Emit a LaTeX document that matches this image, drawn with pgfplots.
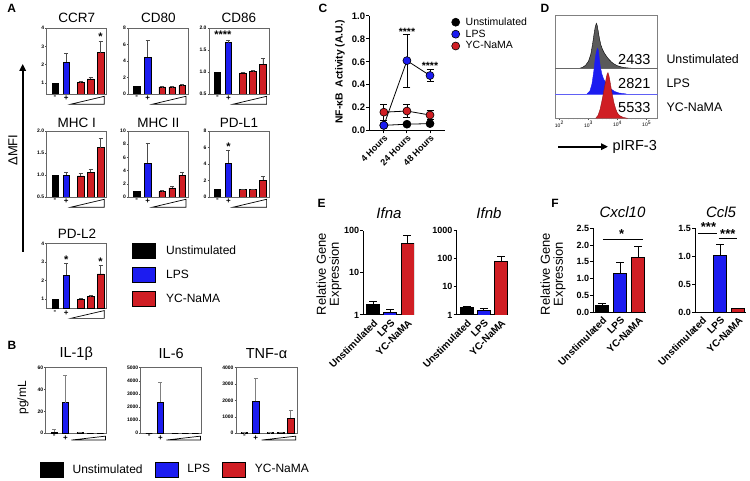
\documentclass[border=0pt]{standalone}
\usepackage{pgfplots}
\pgfplotsset{compat=1.18}
\usepackage{fontspec}
\setmainfont{Liberation Sans}
\usetikzlibrary{arrows.meta}
\definecolor{cblue}{RGB}{28,28,240}
\definecolor{cred}{RGB}{208,30,36}
\definecolor{cgray}{RGB}{90,90,90}
\newcommand\fs[1]{\fontsize{#1}{#1}\selectfont}
\pgfkeys{/pgf/number format/assume math mode=true}
\pgfplotsset{
  aBar/.style={ybar, bar shift=0pt, bar width=6.5pt, draw=black, line width=0.5pt, forget plot,
    error bars/y dir=plus, error bars/y explicit, error bars/error bar style={line width=0.6pt, black!70},
    error bars/error mark options={rotate=90, mark size=2pt, line width=0.6pt, black!70}},
  bBar/.style={ybar, bar shift=0pt, bar width=6.5pt, draw=black, line width=0.5pt, forget plot,
    error bars/y dir=plus, error bars/y explicit, error bars/error bar style={line width=0.6pt, black!50},
    error bars/error mark options={rotate=90, mark size=2pt, line width=0.6pt, black!50}},
  eBar/.style={ybar, bar shift=0pt, bar width=13pt, draw=black, line width=0.9pt, forget plot,
    error bars/y dir=plus, error bars/y explicit, error bars/error bar style={line width=0.9pt, black},
    error bars/error mark options={rotate=90, mark size=4pt, line width=0.9pt, black}},
  cLine/.style={black, line width=0.8pt, forget plot, mark=*, mark size=4pt,
    error bars/y dir=both, error bars/y explicit, error bars/error bar style={line width=0.8pt, black},
    error bars/error mark options={rotate=90, mark size=3.5pt, line width=0.8pt, black}},
  pA/.style={scale only axis, anchor=south west, width=60pt, height=66pt,
    xmin=-0.75, xmax=4.65,
    axis line style={black!60, line width=0.6pt},
    xtick={0,1}, xticklabels={-,+}, major x tick style={draw=none},
    xticklabel style={font=\fs{8}\bfseries, inner sep=0.5pt},
    ytick pos=left, tick align=outside, major tick length=1.5pt,
    major y tick style={black!70, line width=0.5pt},
    yticklabel style={font=\fs{5}\bfseries, inner sep=0.8pt},
    clip mode=individual, scaled y ticks=false,
    extra description/.code={\draw[line width=0.7pt]
      (axis description cs:0.40,-0.155) -- (axis description cs:0.96,-0.155)
      -- (axis description cs:0.96,-0.035) -- cycle;}},
  pB/.style={pA, width=61pt, height=65.5pt,
    y tick label style={/pgf/number format/1000 sep={}},
    extra description/.code={\draw[line width=0.7pt]
      (axis description cs:0.42,-0.105) -- (axis description cs:0.98,-0.105)
      -- (axis description cs:0.98,-0.045) -- cycle;}},
  onedec/.style={y tick label style={/pgf/number format/fixed, /pgf/number format/fixed zerofill, /pgf/number format/precision=1}},
  pE/.style={scale only axis, anchor=south west,
    axis x line*=bottom, axis y line*=left,
    axis line style={line width=1pt},
    xtick={0,1,2}, xticklabels={Unstimulated,LPS,YC-NaMA},
    major x tick style={draw=none},
    xticklabel style={rotate=45, anchor=north east, font=\fs{10}\bfseries, inner sep=0.5pt},
    tick align=outside, major tick length=3pt, minor tick length=0pt,
    major y tick style={line width=1pt, black},
    yticklabel style={font=\fs{9}\bfseries, inner sep=1pt},
    clip mode=individual},
}
\begin{document}
\begin{tikzpicture}[x=1pt,y=1pt]
\path[use as bounding box] (0,0) rectangle (750,481);

% ---------------- Panel letters
\node[font=\fs{12}\bfseries] at (11.7,472.7) {A};
\node[font=\fs{12}\bfseries] at (12,136) {B};
\node[font=\fs{12}\bfseries] at (323,473) {C};
\node[font=\fs{12}\bfseries] at (545,473) {D};
\node[font=\fs{12}\bfseries] at (321.7,277.7) {E};
\node[font=\fs{12}\bfseries] at (555,277.7) {F};

% ---------------- Panel A
\node[font=\fs{13}, rotate=90] at (13,331) {ΔMFI};
\draw[line width=1.7pt, -{Triangle[length=7pt,width=6.5pt]}] (22.7,229.3) -- (22.7,417);

\node[font=\fs{13.5}] at (76.7,462.7) {CCR7};
\node[font=\fs{13.5}] at (158.3,462.7) {CD80};
\node[font=\fs{13.5}] at (239,462.7) {CD86};
\node[font=\fs{13.5}] at (76.7,357.7) {MHC I};
\node[font=\fs{13.5}] at (158.3,357.7) {MHC II};
\node[font=\fs{13.5}] at (239,357.7) {PD-L1};
\node[font=\fs{13.5}] at (77,247.7) {PD-L2};

\begin{axis}[pA, at={(46.7pt,387pt)}, ymin=0.4, ymax=4, ytick={1,2,3,4}]
\addplot[aBar, fill=black] coordinates {(0,1)};
\addplot[aBar, fill=cblue] coordinates {(1,2.15) +- (0,0.45)};
\addplot[aBar, fill=cred] coordinates {(2.3,1.03) +- (0,0.04) (3.2,1.22) +- (0,0.08) (4.1,2.65) +- (0,0.65)};
\node[font=\fs{11}\bfseries] at (axis cs:4.1,3.5) {*};
\end{axis}

\begin{axis}[pA, at={(128.3pt,387pt)}, ymin=0, ymax=8, ytick={0,2,4,6,8}]
\addplot[aBar, fill=black] coordinates {(0,0.9)};
\addplot[aBar, fill=cblue] coordinates {(1,4.5) +- (0,2.0)};
\addplot[aBar, fill=cred] coordinates {(2.3,0.85) +- (0,0.05) (3.2,0.85) +- (0,0.05) (4.1,1.0) +- (0,0.12)};
\end{axis}

\begin{axis}[pA, onedec, at={(209pt,387pt)}, ymin=0.5, ymax=2, ytick={0.5,1,1.5,2}]
\addplot[aBar, fill=black] coordinates {(0,1.0)};
\addplot[aBar, fill=cblue] coordinates {(1,1.67) +- (0,0.06)};
\addplot[aBar, fill=cred] coordinates {(2.3,0.98) +- (0,0.01) (3.2,1.01) +- (0,0.03) (4.1,1.18) +- (0,0.12)};
\node[font=\fs{11}\bfseries] at (axis cs:0.5,1.85) {****};
\end{axis}

\begin{axis}[pA, onedec, at={(46.7pt,284pt)}, ymin=0.5, ymax=2, ytick={0.5,1,1.5,2}]
\addplot[aBar, fill=black] coordinates {(0,1.0)};
\addplot[aBar, fill=cblue] coordinates {(1,1.0) +- (0,0.07)};
\addplot[aBar, fill=cred] coordinates {(2.3,0.98) +- (0,0.06) (3.2,1.06) +- (0,0.06) (4.1,1.62) +- (0,0.21)};
\end{axis}

\begin{axis}[pA, at={(128.3pt,284pt)}, ymin=0, ymax=10, ytick={0,2,4,6,8,10}]
\addplot[aBar, fill=black] coordinates {(0,0.9)};
\addplot[aBar, fill=cblue] coordinates {(1,5.1) +- (0,3.1)};
\addplot[aBar, fill=cred] coordinates {(2.3,0.85) +- (0,0.1) (3.2,1.4) +- (0,0.25) (4.1,3.3) +- (0,0.5)};
\end{axis}

\begin{axis}[pA, at={(209pt,284pt)}, ymin=0, ymax=8, ytick={0,2,4,6,8}]
\addplot[aBar, fill=black] coordinates {(0,0.9)};
\addplot[aBar, fill=cblue] coordinates {(1,4.1) +- (0,1.6)};
\addplot[aBar, fill=cred] coordinates {(2.3,0.9) +- (0,0.08) (3.2,0.9) +- (0,0.08) (4.1,2.05) +- (0,0.5)};
\node[font=\fs{11}\bfseries] at (axis cs:1,6.1) {*};
\end{axis}

\begin{axis}[pA, at={(46.7pt,172.7pt)}, height=65pt, ymin=0.5, ymax=4, ytick={1,2,3,4},
  legend style={at={(axis description cs:1.424,1.003)}, anchor=north west, draw=none, fill=none,
    inner sep=0pt, row sep=8pt, font=\fs{12}, nodes={inner sep=1pt}, cells={anchor=west},
    /tikz/every odd column/.append style={column sep=9pt}},
  legend image code/.code={\draw[#1, draw=black, line width=0.8pt] (0pt,-7.5pt) rectangle (23pt,7.5pt);}]
\addplot[aBar, fill=black] coordinates {(0,1.0)};
\addplot[aBar, fill=cblue] coordinates {(1,2.3) +- (0,0.63)};
\addplot[aBar, fill=cred] coordinates {(2.3,1.0) +- (0,0.03) (3.2,1.15) +- (0,0.03) (4.1,2.35) +- (0,0.45)};
\node[font=\fs{11}\bfseries] at (axis cs:1,3.1) {*};
\node[font=\fs{11}\bfseries] at (axis cs:4.1,3.0) {*};
\addlegendimage{fill=black}\addlegendentry{Unstimulated}
\addlegendimage{fill=cblue}\addlegendentry{LPS}
\addlegendimage{fill=cred}\addlegendentry{YC-NaMA}
\end{axis}

% ---------------- Panel B
\node[font=\fs{12}, rotate=90] at (23,83) {pg/mL};
\node[font=\fs{14.5}] at (76.2,127) {IL-1β};
\node[font=\fs{14.5}] at (171.2,127) {IL-6};
\node[font=\fs{14.5}] at (266.5,127) {TNF-α};

\begin{axis}[pB, at={(45.7pt,47.8pt)}, ymin=0, ymax=60, ytick={0,20,40,60},
  legend columns=3,
  legend style={at={(axis description cs:-0.1,-0.43)}, anchor=north west, draw=none, fill=none,
    inner sep=0pt, font=\fs{12}, nodes={inner sep=1pt}, cells={anchor=west},
    /tikz/every odd column/.append style={column sep=8pt},
    /tikz/every even column/.append style={column sep=11pt}},
  legend image code/.code={\draw[#1, draw=black, line width=0.8pt] (0pt,-7.5pt) rectangle (23pt,7.5pt);}]
\addplot[bBar, fill=black] coordinates {(0,1) +- (0,2.5)};
\addplot[bBar, fill=cblue] coordinates {(1,28) +- (0,25)};
\addplot[bBar, fill=cred] coordinates {(2.3,0.6) +- (0,0.3) (3.2,0) (4.1,0)};
\addlegendimage{fill=black}\addlegendentry{Unstimulated}
\addlegendimage{fill=cblue}\addlegendentry{LPS}
\addlegendimage{fill=cred}\addlegendentry{YC-NaMA}
\end{axis}

\begin{axis}[pB, at={(140.7pt,47.8pt)}, ymin=0, ymax=5000, ytick={0,1000,2000,3000,4000,5000}]
\addplot[bBar, fill=black] coordinates {(0,0)};
\addplot[bBar, fill=cblue] coordinates {(1,2400) +- (0,1500)};
\addplot[bBar, fill=cred] coordinates {(2.3,0) (3.2,0) (4.1,0)};
\end{axis}

\begin{axis}[pB, at={(236pt,47.8pt)}, ymin=0, ymax=4000, ytick={0,1000,2000,3000,4000}]
\addplot[bBar, fill=black] coordinates {(0,30) +- (0,10)};
\addplot[bBar, fill=cblue] coordinates {(1,1950) +- (0,1380)};
\addplot[bBar, fill=cred] coordinates {(2.3,30) +- (0,10) (3.2,40) +- (0,10) (4.1,920) +- (0,460)};
\end{axis}

% ---------------- Panel C
\node[font=\fs{10.3}\bfseries, rotate=90] at (340,409.3) {NF-κB\ \ Activity (A.U.)};
\begin{axis}[scale only axis, anchor=south west, at={(369.3pt,350.5pt)}, width=75.7pt, height=114.5pt,
  xmin=0.37, xmax=3.65, ymin=0, ymax=1,
  axis x line*=bottom, axis y line*=left, axis line style={line width=1pt},
  xtick={1,2,3}, xticklabels={4 Hours,24 Hours,48 Hours},
  xticklabel style={rotate=45, anchor=north east, font=\fs{9}\bfseries, inner sep=0.5pt},
  ytick={0,0.2,0.4,0.6,0.8,1.0}, onedec,
  yticklabel style={font=\fs{9.5}\bfseries, inner sep=1pt},
  tick align=outside, major tick length=3pt, tick style={line width=1pt, black},
  clip=false,
  legend style={at={(axis description cs:1.086,0.996)}, anchor=north west, draw=none, fill=none,
    inner sep=0pt, row sep=1pt, font=\fs{10.5}, nodes={inner sep=1pt}, cells={anchor=west},
    /tikz/every odd column/.append style={column sep=5pt}},
  legend image code/.code={\draw[#1] plot coordinates {(0pt,0pt)};}]
\addplot[cLine, mark options={fill=black, draw=black, line width=0.6pt}]
  coordinates {(1,0.045) +- (0,0.005) (2,0.055) +- (0,0.008) (3,0.06) +- (0,0.01)};
\addplot[cLine, mark options={fill=cred, draw=black, line width=0.6pt}]
  coordinates {(1,0.16) +- (0,0.07) (2,0.17) +- (0,0.055) (3,0.135) +- (0,0.04)};
\addplot[cLine, mark options={fill=cblue, draw=black, line width=0.6pt}]
  coordinates {(1,0.045) +- (0,0.01) (2,0.61) +- (0,0.23) (3,0.48) +- (0,0.05)};
\node[font=\fs{10.5}\bfseries] at (axis cs:2,0.86) {****};
\node[font=\fs{10.5}\bfseries] at (axis cs:3,0.56) {****};
\addlegendimage{mark=*, mark size=4pt, fill=black, draw=black, line width=0.6pt}\addlegendentry{Unstimulated}
\addlegendimage{mark=*, mark size=4pt, fill=cblue, draw=black, line width=0.6pt}\addlegendentry{LPS}
\addlegendimage{mark=*, mark size=4pt, fill=cred, draw=black, line width=0.6pt}\addlegendentry{YC-NaMA}
\end{axis}

% ---------------- Panel D
\begin{axis}[scale only axis, anchor=south west, at={(555pt,362.7pt)}, width=102.7pt, height=102.6pt,
  xmin=1.85, xmax=5.38, ymin=0, ymax=102.6, ytick=\empty,
  xtick={2,3,4,5}, xticklabels={10\textsuperscript{2},10\textsuperscript{3},10\textsuperscript{4},10\textsuperscript{5}},
  minor xtick={1.903,1.954,2.301,2.477,2.602,2.699,2.778,2.845,2.903,2.954,3.301,3.477,3.602,3.699,3.778,3.845,3.903,3.954,4.301,4.477,4.602,4.699,4.778,4.845,4.903,4.954,5.301},
  xtick pos=bottom, tick align=outside, major tick length=2pt, minor tick length=1pt,
  tick style={black!70, line width=0.4pt},
  xticklabel style={font=\fs{5}, inner sep=1pt},
  axis line style={black!50, line width=0.5pt}]
\addplot[fill=cgray, draw=black, line width=0.4pt] coordinates {(2.70,50) (2.80,51) (2.90,53) (3.00,57) (3.08,64) (3.14,74) (3.19,84) (3.23,91) (3.27,95) (3.30,93) (3.33,88) (3.37,81) (3.42,74) (3.48,69) (3.55,65) (3.62,62) (3.70,59) (3.80,56) (3.90,54) (4.00,52.5) (4.15,51.2) (4.30,50.5) (4.50,50)};
\addplot[black!60, line width=0.6pt] coordinates {(1.85,50) (5.38,50)};
\addplot[fill=cblue, draw=cblue, line width=0.4pt] coordinates {(2.95,24.3) (3.05,27.3) (3.12,34.3) (3.18,46.3) (3.23,59.3) (3.27,66.3) (3.31,70) (3.34,68.3) (3.37,60.3) (3.41,51.3) (3.46,44.3) (3.52,39.3) (3.60,35.3) (3.70,31.3) (3.80,28.8) (3.90,26.8) (4.05,25.3) (4.30,24.3)};
\addplot[cblue!70, line width=0.6pt] coordinates {(1.85,24.3) (5.38,24.3)};
\addplot[fill=cred, draw=cred!70!black, line width=0.4pt] coordinates {(3.25,0) (3.33,3) (3.40,9) (3.46,17) (3.52,26) (3.57,34) (3.61,40) (3.64,44) (3.67,45.6) (3.70,43) (3.74,37) (3.78,30) (3.83,22) (3.88,15) (3.94,9) (4.00,5) (4.08,2.5) (4.20,0.8) (4.35,0)};
\end{axis}
\node[font=\fs{14.5}, anchor=east] at (654,421.7) {2433};
\node[font=\fs{14.5}, anchor=east] at (654,397.7) {2821};
\node[font=\fs{14.5}, anchor=east] at (654,373.7) {5533};
\node[font=\fs{12.4}, anchor=west] at (663,421.7) {Unstimulated};
\node[font=\fs{12.4}, anchor=west] at (663,397.7) {LPS};
\node[font=\fs{12.4}, anchor=west] at (663,373.7) {YC-NaMA};
\draw[line width=1.8pt, -{Triangle[length=7pt,width=6.5pt]}] (558,334.3) -- (608,334.3);
\node[font=\fs{14.5}, anchor=west] at (609,334.3) {pIRF-3};

% ---------------- Panel E
\node[font=\fs{13}, rotate=90, align=center] at (329,207) {Relative Gene\\Expression};
\node[font=\fs{15}\itshape] at (389,267.7) {Ifna};
\node[font=\fs{15}\itshape] at (489,267.7) {Ifnb};

\begin{axis}[pE, at={(363.3pt,166pt)}, width=50.7pt, height=84.3pt, ymode=log, ymin=1, ymax=100,
  ytick={1,10,100}, yticklabels={1,10,100}, xmin=-0.57, xmax=2.38]
\addplot[eBar, fill=black] coordinates {(0,1.75) +- (0,0.3)};
\addplot[eBar, fill=cblue] coordinates {(1,1.12) +- (0,0.2)};
\addplot[eBar, fill=cred] coordinates {(2,50) +- (0,28)};
\end{axis}

\begin{axis}[pE, at={(456.7pt,166pt)}, width=51.6pt, height=84.3pt, ymode=log, ymin=1, ymax=1000,
  ytick={1,10,100,1000}, yticklabels={1,10,100,1000}, xmin=-0.58, xmax=2.42]
\addplot[eBar, fill=black] coordinates {(0,1.8) +- (0,0.28)};
\addplot[eBar, fill=cblue] coordinates {(1,1.45) +- (0,0.27)};
\addplot[eBar, fill=cred] coordinates {(2,78) +- (0,45)};
\end{axis}

% ---------------- Panel F
\node[font=\fs{13}, rotate=90, align=center] at (553,207) {Relative Gene\\Expression};
\node[font=\fs{15}\itshape] at (622.5,269.3) {Cxcl10};
\node[font=\fs{15}\itshape] at (721,269.3) {Ccl5};

\begin{axis}[pE, onedec, at={(593.3pt,168.7pt)}, width=52.4pt, height=84pt, ymin=0, ymax=2.5,
  ytick={0,0.5,1,1.5,2,2.5}, xmin=-0.48, xmax=2.4]
\addplot[eBar, fill=black] coordinates {(0,0.2) +- (0,0.07)};
\addplot[eBar, fill=cblue] coordinates {(1,1.17) +- (0,0.32)};
\addplot[eBar, fill=cred] coordinates {(2,1.62) +- (0,0.35)};
\draw[line width=1pt] (axis cs:0.05,2.17) -- (axis cs:2.25,2.17);
\node[font=\fs{13}\bfseries] at (axis cs:1.08,2.33) {*};
\end{axis}

\begin{axis}[pE, onedec, at={(695pt,168.7pt)}, width=50.7pt, height=84pt, ymin=0, ymax=1.5,
  ytick={0,0.5,1,1.5}, xmin=-0.38, xmax=2.4]
\addplot[eBar, fill=black] coordinates {(0,0.004)};
\addplot[eBar, fill=cblue] coordinates {(1,1.02) +- (0,0.19)};
\addplot[eBar, fill=cred] coordinates {(2,0.06) +- (0,0.012)};
\draw[line width=1pt] (axis cs:-0.19,1.41) -- (axis cs:0.82,1.41);
\draw[line width=1pt] (axis cs:0.91,1.32) -- (axis cs:1.91,1.32);
\node[font=\fs{13}\bfseries] at (axis cs:0.36,1.52) {***};
\node[font=\fs{13}\bfseries] at (axis cs:1.42,1.40) {***};
\end{axis}

\end{tikzpicture}
\end{document}
